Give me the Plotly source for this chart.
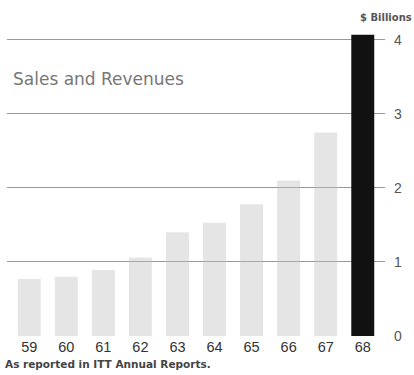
import plotly.graph_objects as go

years = ["59", "60", "61", "62", "63", "64", "65", "66", "67", "68"]
revenues = [0.77, 0.80, 0.89, 1.06, 1.40, 1.53, 1.78, 2.10, 2.75, 4.07]
bar_colors = ["rgba(190,190,190,0.4)"] * 9 + ["#111111"]
y_ticks = [0, 1, 2, 3, 4]

fig = go.Figure()
fig.add_trace(go.Bar(
    x=years, y=revenues,
    marker=dict(color=bar_colors, line=dict(width=0)),
    width=0.62,
    hoverinfo="skip",
))

fig.update_layout(
    width=414, height=375,
    margin=dict(l=7, r=29, t=34, b=39, autoexpand=False),
    paper_bgcolor="white", plot_bgcolor="white",
    showlegend=False,
    font=dict(family="Liberation Sans, Arial, sans-serif", color="#444"),
    xaxis=dict(
        type="category", range=[-0.6, 9.6],
        showgrid=False, zeroline=False, showline=False,
        ticks="", tickfont=dict(size=14.5, color="#333"),
    ),
    yaxis=dict(
        side="right", range=[0, 4.08],
        tickvals=y_ticks, ticktext=[str(v) for v in y_ticks],
        showgrid=True, gridcolor="#999999", gridwidth=1,
        zeroline=False, showline=False,
        ticks="", ticklabelstandoff=8,
        tickfont=dict(size=14, color="#555"),
    ),
    annotations=[
        dict(text="Sales and Revenues", xref="paper", yref="paper",
             x=0.0, y=0.852, xanchor="left", yanchor="middle", xshift=4,
             showarrow=False, font=dict(family="DejaVu Sans", size=17, color="#777")),
        dict(text="<b>$ Billions</b>", xref="paper", yref="paper",
             x=1.0, y=1.0, xanchor="right", yanchor="bottom", xshift=29, yshift=9,
             showarrow=False, font=dict(family="DejaVu Sans", size=10, color="#555")),
        dict(text="<b>As reported in ITT Annual Reports.</b>", xref="paper", yref="paper",
             x=0.0, y=0.0, xanchor="left", yanchor="top", xshift=-4, yshift=-20,
             showarrow=False, font=dict(family="DejaVu Sans", size=10.5, color="#444")),
    ],
)

fig.write_html("out.html", config={"displayModeBar": False},
               post_script="document.body.style.margin='0';document.body.style.overflow='hidden';")
